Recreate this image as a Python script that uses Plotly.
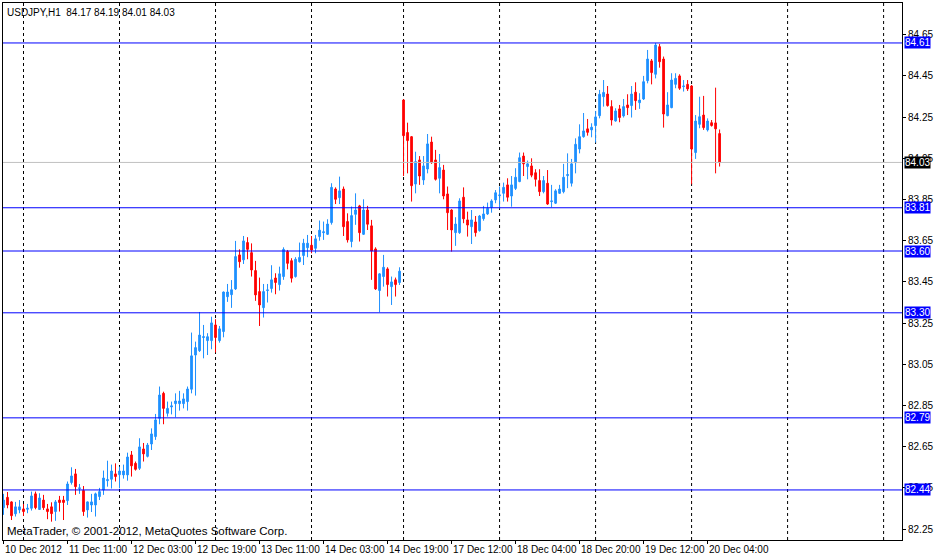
import pandas as pd
import plotly.graph_objects as go

symbol = "USDJPY,H1"

# hourly candles
opens = [
    82.354, 82.404, 82.382, 82.324, 82.343, 82.348, 82.346, 82.351, 82.421, 82.345,
    82.391, 82.348, 82.358, 82.335, 82.391, 82.391, 82.388, 82.476, 82.518, 82.447,
    82.437, 82.343, 82.367, 82.367, 82.408, 82.440, 82.485, 82.492, 82.518, 82.514,
    82.513, 82.513, 82.610, 82.569, 82.545, 82.639, 82.603, 82.663, 82.699, 82.788,
    82.909, 82.812, 82.843, 82.859, 82.859, 82.859, 82.869, 82.929, 83.095, 83.116,
    83.180, 83.165, 83.165, 83.241, 83.165, 83.209, 83.378, 83.388, 83.416, 83.581,
    83.557, 83.641, 83.592, 83.505, 83.403, 83.325, 83.408, 83.418, 83.469, 83.437,
    83.476, 83.597, 83.553, 83.476, 83.548, 83.578, 83.616, 83.628, 83.613, 83.670,
    83.689, 83.681, 83.738, 83.901, 83.859, 83.901, 83.743, 83.646, 83.778, 83.819,
    83.681, 83.799, 83.722, 83.610, 83.408, 83.476, 83.513, 83.427, 83.460, 83.447,
    84.333, 84.175, 84.155, 83.925, 84.042, 83.945, 83.998, 84.129, 84.042, 83.953,
    83.993, 83.877, 83.799, 83.689, 83.689, 83.861, 83.751, 83.718, 83.741, 83.699,
    83.757, 83.780, 83.812, 83.848, 83.869, 83.880, 83.921, 83.867, 83.904, 83.937,
    84.061, 84.010, 84.013, 83.980, 83.942, 83.888, 83.929, 83.840, 83.832, 83.880,
    83.888, 83.966, 83.929, 84.029, 84.095, 84.155, 84.193, 84.188, 84.209, 84.257,
    84.349, 84.362, 84.301, 84.231, 84.290, 84.256, 84.309, 84.306, 84.371, 84.320,
    84.338, 84.427, 84.523, 84.458, 84.592, 84.532, 84.257, 84.296, 84.409, 84.450,
    84.398, 84.409, 84.401, 84.078, 84.215, 84.260, 84.188, 84.223, 84.222, 84.170,
]
highs = [
    82.421, 82.430, 82.385, 82.382, 82.391, 82.372, 82.372, 82.432, 82.432, 82.424,
    82.416, 82.372, 82.380, 82.391, 82.411, 82.411, 82.481, 82.550, 82.542, 82.469,
    82.459, 82.384, 82.421, 82.427, 82.450, 82.534, 82.582, 82.563, 82.569, 82.553,
    82.563, 82.621, 82.629, 82.578, 82.691, 82.668, 82.668, 82.739, 82.809, 82.942,
    82.917, 82.869, 82.869, 82.909, 82.921, 82.909, 82.942, 83.204, 83.160, 83.304,
    83.241, 83.201, 83.281, 83.269, 83.236, 83.403, 83.440, 83.459, 83.649, 83.608,
    83.673, 83.667, 83.637, 83.552, 83.471, 83.440, 83.440, 83.531, 83.492, 83.524,
    83.618, 83.605, 83.565, 83.570, 83.641, 83.659, 83.678, 83.673, 83.678, 83.748,
    83.743, 83.754, 83.929, 83.909, 83.961, 83.913, 83.783, 83.816, 83.880, 83.824,
    83.851, 83.819, 83.751, 83.618, 83.492, 83.581, 83.521, 83.476, 83.471, 83.521,
    84.336, 84.223, 84.158, 84.082, 84.061, 84.061, 84.168, 84.155, 84.091, 84.071,
    84.018, 83.913, 83.803, 83.764, 83.856, 83.909, 83.791, 83.799, 83.770, 83.775,
    83.819, 83.835, 83.851, 83.896, 83.913, 83.932, 83.953, 83.964, 84.002, 84.078,
    84.078, 84.039, 84.050, 83.997, 83.997, 83.964, 83.993, 83.921, 83.900, 83.921,
    84.023, 84.074, 84.047, 84.147, 84.215, 84.270, 84.241, 84.220, 84.280, 84.382,
    84.430, 84.401, 84.332, 84.293, 84.309, 84.338, 84.361, 84.401, 84.419, 84.366,
    84.450, 84.576, 84.532, 84.610, 84.605, 84.544, 84.371, 84.463, 84.463, 84.458,
    84.430, 84.430, 84.406, 84.260, 84.349, 84.353, 84.244, 84.236, 84.393, 84.190,
]
lows = [
    82.319, 82.351, 82.294, 82.311, 82.327, 82.314, 82.327, 82.340, 82.346, 82.343,
    82.343, 82.298, 82.286, 82.290, 82.335, 82.294, 82.367, 82.466, 82.416, 82.421,
    82.314, 82.306, 82.333, 82.311, 82.391, 82.416, 82.456, 82.447, 82.481, 82.448,
    82.495, 82.485, 82.505, 82.534, 82.537, 82.578, 82.598, 82.634, 82.683, 82.759,
    82.759, 82.796, 82.807, 82.793, 82.825, 82.836, 82.825, 82.909, 82.898, 83.110,
    83.079, 83.095, 83.123, 83.107, 83.155, 83.181, 83.353, 83.324, 83.411, 83.519,
    83.537, 83.560, 83.476, 83.358, 83.236, 83.277, 83.350, 83.398, 83.390, 83.408,
    83.460, 83.511, 83.447, 83.471, 83.544, 83.532, 83.570, 83.589, 83.589, 83.650,
    83.654, 83.678, 83.728, 83.828, 83.828, 83.673, 83.641, 83.618, 83.727, 83.646,
    83.678, 83.702, 83.460, 83.411, 83.303, 83.427, 83.379, 83.338, 83.379, 83.435,
    83.964, 83.977, 83.840, 83.880, 83.921, 83.921, 83.977, 84.023, 83.942, 83.880,
    83.851, 83.702, 83.597, 83.625, 83.683, 83.735, 83.670, 83.634, 83.670, 83.694,
    83.747, 83.775, 83.786, 83.832, 83.807, 83.840, 83.840, 83.815, 83.896, 83.934,
    83.964, 83.948, 83.958, 83.913, 83.867, 83.880, 83.824, 83.812, 83.828, 83.877,
    83.880, 83.905, 83.913, 83.977, 84.074, 84.150, 84.160, 84.152, 84.126, 84.244,
    84.301, 84.301, 84.209, 84.228, 84.225, 84.248, 84.260, 84.248, 84.285, 84.290,
    84.333, 84.414, 84.409, 84.438, 84.490, 84.199, 84.254, 84.293, 84.390, 84.382,
    84.374, 84.377, 83.924, 84.047, 84.196, 84.188, 84.180, 84.204, 83.977, 84.010,
]
closes = [
    82.391, 82.367, 82.315, 82.358, 82.358, 82.335, 82.351, 82.411, 82.354, 82.401,
    82.354, 82.335, 82.325, 82.382, 82.379, 82.379, 82.469, 82.508, 82.456, 82.450,
    82.335, 82.382, 82.382, 82.421, 82.432, 82.498, 82.490, 82.532, 82.505, 82.532,
    82.532, 82.600, 82.557, 82.540, 82.649, 82.615, 82.658, 82.712, 82.780, 82.901,
    82.836, 82.836, 82.848, 82.872, 82.872, 82.882, 82.930, 83.091, 83.131, 83.192,
    83.184, 83.184, 83.251, 83.180, 83.222, 83.401, 83.401, 83.412, 83.573, 83.548,
    83.649, 83.608, 83.508, 83.387, 83.338, 83.403, 83.411, 83.460, 83.447, 83.489,
    83.608, 83.540, 83.468, 83.560, 83.569, 83.638, 83.638, 83.605, 83.659, 83.701,
    83.693, 83.731, 83.909, 83.851, 83.892, 83.718, 83.654, 83.772, 83.799, 83.689,
    83.799, 83.730, 83.600, 83.416, 83.489, 83.521, 83.437, 83.450, 83.437, 83.502,
    84.160, 84.136, 83.917, 84.034, 83.964, 84.013, 84.120, 84.029, 83.948, 84.005,
    83.867, 83.786, 83.702, 83.731, 83.843, 83.756, 83.726, 83.751, 83.689, 83.770,
    83.780, 83.807, 83.843, 83.883, 83.872, 83.909, 83.861, 83.921, 83.958, 84.053,
    84.023, 84.023, 83.968, 83.948, 83.888, 83.942, 83.828, 83.843, 83.892, 83.901,
    83.958, 83.971, 84.023, 84.118, 84.155, 84.183, 84.176, 84.201, 84.251, 84.361,
    84.370, 84.306, 84.236, 84.280, 84.248, 84.301, 84.296, 84.362, 84.330, 84.333,
    84.422, 84.532, 84.466, 84.600, 84.519, 84.265, 84.309, 84.430, 84.438, 84.390,
    84.401, 84.387, 84.095, 84.231, 84.252, 84.199, 84.231, 84.209, 84.193, 84.030,
]

# horizontal levels drawn on the chart, and the bid line
levels = [84.61, 83.81, 83.60, 83.30, 82.79, 82.44]
bid = 84.03

# bar times: Friday closes at 22:00, Monday opens at 00:00
times = list(pd.date_range("2012-12-10 19:00", "2012-12-14 22:00", freq="h")) + \
    list(pd.date_range("2012-12-17 00:00", periods=130, freq="h"))

bars = list(range(len(opens)))
tick_pos = bars[::16]
tick_labels = [times[i].strftime("%d %b %Y") if i == 0 else times[i].strftime("%d %b %H:%M")
               for i in tick_pos]
x_max = 224.6
day_starts = [i for i, t in enumerate(times) if t.hour == 0 and i < x_max]

BULL = "#1E90FF"
BEAR = "#FF0000"
FONT = "Liberation Sans"

fig = go.Figure()
fig.add_trace(go.Candlestick(
    x=bars, open=opens, high=highs, low=lows, close=closes,
    increasing=dict(line=dict(color=BULL, width=1), fillcolor=BULL),
    decreasing=dict(line=dict(color=BEAR, width=1), fillcolor=BEAR),
    whiskerwidth=0, showlegend=False,
))

shapes = []
for d in day_starts:
    shapes.append(dict(type="line", xref="x", yref="paper", x0=d, x1=d, y0=0, y1=1,
                       line=dict(color="black", width=1, dash="3px,3px"), layer="below"))
shapes.append(dict(type="line", xref="paper", yref="y", x0=0, x1=1, y0=bid, y1=bid,
                   line=dict(color="#C0C0C0", width=1)))
for v in levels:
    shapes.append(dict(type="line", xref="paper", yref="y", x0=0, x1=1, y0=v, y1=v,
                       line=dict(color="#0000FF", width=1)))

annotations = []
for v in levels:
    annotations.append(dict(x=1, xref="paper", y=v, yref="y", xanchor="left", xshift=2,
                            text=f"{v:.2f}", showarrow=False, bgcolor="#0000FF", borderpad=0,
                            font=dict(family=FONT, size=10, color="white")))
annotations.append(dict(x=1, xref="paper", y=bid, yref="y", xanchor="left", xshift=2,
                        text=f"{bid:.2f}", showarrow=False, bgcolor="black", borderpad=0,
                        font=dict(family=FONT, size=10, color="white")))
for pos, lab in zip(tick_pos, tick_labels):
    annotations.append(dict(x=pos, xref="x", y=0, yref="paper", xanchor="left", yanchor="top",
                            xshift=-1, yshift=-2, text=lab, showarrow=False,
                            font=dict(family=FONT, size=10, color="black")))
header = f"{symbol}\u00a0\u00a0{opens[-1]:.2f} {highs[-1]:.2f} {lows[-1]:.2f} {closes[-1]:.2f}"
annotations.append(dict(x=0, xref="paper", y=1, yref="paper", xanchor="left", yanchor="top",
                        xshift=2, yshift=-2, text=header, showarrow=False,
                        font=dict(family=FONT, size=10, color="black")))
annotations.append(dict(x=0, xref="paper", y=0, yref="paper", xanchor="left", yanchor="bottom",
                        xshift=2, yshift=1, text="MetaTrader, © 2001-2012, MetaQuotes Software Corp.",
                        showarrow=False, font=dict(family=FONT, size=11.5, color="black")))

fig.update_layout(
    width=940, height=557,
    margin=dict(l=3, r=38, t=3, b=17),
    paper_bgcolor="white", plot_bgcolor="white",
    boxgap=0.4,
    shapes=shapes, annotations=annotations,
    font=dict(family=FONT, size=10, color="black"),
    xaxis=dict(range=[-0.125, x_max], showgrid=False, zeroline=False,
               showline=True, mirror=True, linecolor="black", linewidth=1,
               ticks="outside", ticklen=3, tickcolor="black", tickvals=tick_pos,
               showticklabels=False, rangeslider=dict(visible=False), fixedrange=True),
    yaxis=dict(side="right", range=[82.197, 84.804], showgrid=False, zeroline=False,
               showline=True, mirror=True, linecolor="black", linewidth=1,
               ticks="outside", ticklen=3, tickcolor="black",
               tick0=82.25, dtick=0.2, tickformat=".2f",
               tickfont=dict(family=FONT, size=10, color="black")),
)

# the page body has a default 8px margin; drop it so the chart fills the window
fig.write_html("out.html", config={"displayModeBar": False},
               post_script="document.body.style.margin='0';"
               "document.body.style.overflow='hidden';")
